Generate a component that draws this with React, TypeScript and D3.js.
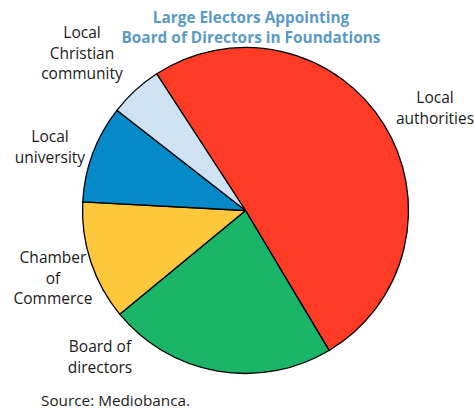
import React from "react";
import * as d3 from "d3";

const categories = ["Local authorities", "Board of directors", "Chamber of Commerce", "Local university", "Local Christian community"];
const shares = [50.6, 22.6, 11.8, 9.7, 5.3];
const colors = ["#FF3B26", "#1BB567", "#FFC83C", "#0489C9", "#CFE2F3"];
const labelLines = [
  ["Local", "authorities"],
  ["Board of", "directors"],
  ["Chamber", "of", "Commerce"],
  ["Local", "university"],
  ["Local", "Christian", "community"],
];
const titleLines = ["Large Electors Appointing", "Board of Directors in Foundations"];
const sourceText = "Source: Mediobanca.";

// label layout: center x and first baseline y
const labelPos = [
  { x: 435, y: 103 },
  { x: 100, y: 352 },
  { x: 53, y: 263 },
  { x: 50, y: 142 },
  { x: 82, y: 38 },
];

export default function App() {
  const W = 474, H = 410;
  const cx = 245.5, cy = 210.5, r = 163;
  const start = (-33 * Math.PI) / 180;
  const pie = d3.pie<number>().sort(null).value((d) => d).startAngle(start).endAngle(start + 2 * Math.PI);
  const arcs = pie(shares);
  const arc = d3.arc<d3.PieArcDatum<number>>().innerRadius(0).outerRadius(r);
  const font = "'Open Sans', sans-serif";
  const lh = 20.5;
  return (
    <svg width={W} height={H} style={{ position: "absolute", left: 0, top: 0, background: "#fff" }}>
      <g transform={`translate(${cx},${cy})`}>
        {arcs.map((a, i) => (
          <path key={categories[i]} d={arc(a) || ""} fill={colors[i]} stroke="#000" strokeWidth={1.3} strokeLinejoin="round" />
        ))}
      </g>
      {titleLines.map((t, i) => (
        <text key={t} x={251} y={23 + i * 20} textAnchor="middle" fontFamily={font} fontWeight={700} fontSize={15.4} fill="#5B9BC3">
          {t}
        </text>
      ))}
      {labelLines.map((lines, i) => (
        <g key={categories[i]}>
          {lines.map((l, j) => (
            <text key={j} x={labelPos[i].x} y={labelPos[i].y + j * lh} textAnchor="middle" fontFamily={font} fontSize={15.5} fill="#1a1a1a">
              {l}
            </text>
          ))}
        </g>
      ))}
      <text x={41} y={406} fontFamily={font} fontSize={15.3} fill="#1a1a1a">{sourceText}</text>
    </svg>
  );
}
